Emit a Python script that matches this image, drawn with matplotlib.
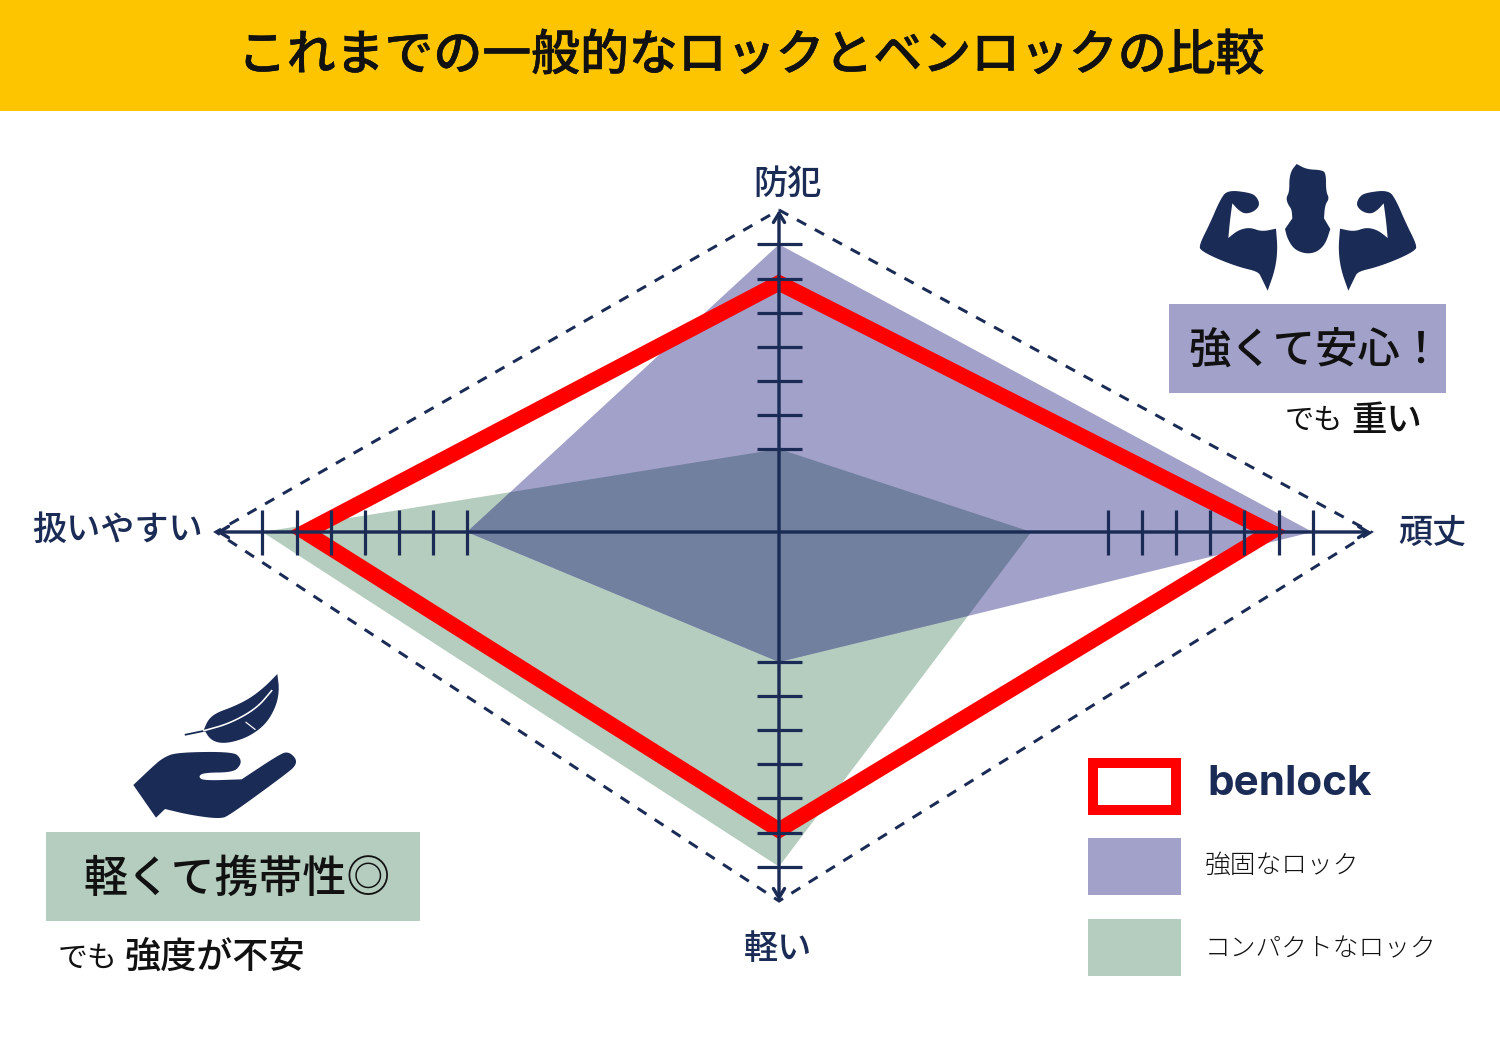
import numpy as np
import matplotlib
matplotlib.use('Agg')
import matplotlib.pyplot as plt
import matplotlib.patheffects as pe
from matplotlib.patches import Polygon, Rectangle

plt.rcParams['font.family'] = ['Noto Sans CJK JP', 'DejaVu Sans']

# Scores per axis, order: up, right, down, left. Ticks are scores 4..10
title = "これまでの一般的なロックとベンロックの比較"
axis_labels = ["防犯", "頑丈", "軽い", "扱いやすい"]
tick_scores = [4, 5, 6, 7, 8, 9, 10]
strong_scores = [10, 10, 4, 4]
compact_scores = [4, 1.75, 10, 10]
benlock_scores = [8.87, 8.78, 8.93, 8.75]
legend_labels = ["強固なロック", "コンパクトなロック"]

NAVY = '#1A2B56'
PURPLE = '#A2A1C9'
GREEN = '#B5CDBE'
OVERLAP = '#71809E'
RED = '#FF0000'
YELLOW = '#FDC500'
INK = '#111111'

# layout in pixels
CX, CY = 779, 532
DIRS = np.array([[0, -1], [1, 0], [0, 1], [-1, 0]])
FIRST_TICK = np.array([83, 329, 130, 312])
AXIS_END = np.array([322, 592, 369, 563])
STEP = 34.1


def px(p):
    return p * 0.72


def score_xy(scores):
    dist = FIRST_TICK + (np.array(scores) - 4) * STEP
    return np.array([CX, CY]) + DIRS * dist[:, None]


def smooth(pts, closed=True, rounds=3):
    # corner cutting, a point listed twice stays a sharp corner
    pts = np.array(pts, dtype=float)
    for _ in range(rounds):
        first, last = pts[0], pts[-1]
        nxt = np.roll(pts, -1, axis=0)
        if not closed:
            pts, nxt = pts[:-1], nxt[:-1]
        q = 0.75 * pts + 0.25 * nxt
        r = 0.25 * pts + 0.75 * nxt
        pts = np.empty((len(q) * 2, 2))
        pts[0::2] = q
        pts[1::2] = r
        if not closed:
            pts = np.vstack([first, pts, last])
    return pts


def trace(pts, ox, oy, closed=True):
    return smooth(pts, closed) / 3 + np.array([ox, oy])


fig = plt.figure(figsize=(15, 10.49), dpi=100)
ax = fig.add_axes([0, 0, 1, 1])
ax.set_xlim(0, 1500)
ax.set_ylim(1049, 0)
ax.axis('off')

# title bar
ax.add_patch(Rectangle((0, 0), 1500, 111, fc=YELLOW, ec='none'))
ax.text(751, 56, title, fontsize=35.2, color=INK, ha='center', va='center', fontweight='medium',
        path_effects=[pe.withStroke(linewidth=0.3, foreground=INK)])

# areas, the overlap is the green shape clipped to the purple one
ax.add_patch(Polygon(score_xy(compact_scores), fc=GREEN, ec='none', zorder=2))
purple = Polygon(score_xy(strong_scores), fc=PURPLE, ec='none', zorder=3)
ax.add_patch(purple)
overlap = Polygon(score_xy(compact_scores), fc=OVERLAP, ec='none', zorder=4)
ax.add_patch(overlap)
overlap.set_clip_path(purple)

# benlock outline
ax.add_patch(Polygon(score_xy(benlock_scores), fc='none', ec=RED, lw=px(15.5), joinstyle='miter', zorder=5))

# dashed frame
ends = np.array([CX, CY]) + DIRS * AXIS_END[:, None]
ax.add_patch(Polygon(ends, fc='none', ec=NAVY, lw=px(3.0), ls=(0, (3.5, 3.3)), zorder=6))

# axes with arrow heads
arrow = dict(arrowstyle='<->,head_length=0.66,head_width=0.4', color=NAVY, lw=px(3.4),
             shrinkA=0, shrinkB=0)
ax.annotate('', xy=ends[0], xytext=ends[2], arrowprops=arrow, zorder=7)
ax.annotate('', xy=ends[1], xytext=ends[3], arrowprops=arrow, zorder=7)

# ticks
for i in range(4):
    for s in tick_scores:
        scores = FIRST_TICK + (s - 4) * STEP
        p = np.array([CX, CY]) + DIRS[i] * scores[i]
        normal = DIRS[i][::-1]
        a = p - normal * 22.5
        b = p + normal * 22.5
        ax.plot([a[0], b[0]], [a[1], b[1]], color=NAVY, lw=px(3.2), solid_capstyle='butt', zorder=7)

# axis labels
label_pos = [(787, 184), (1432, 533), (778, 949), (117, 530)]
for lab, (x, y) in zip(axis_labels, label_pos):
    ax.text(x, y, lab, fontsize=24.6, color=NAVY, ha='center', va='center', fontweight='medium')

# muscle icon
head = [(440, 42), (440, 42), (425, 60), (418, 85), (418, 125), (408, 145), (415, 165), (425, 178),
        (427, 205), (427, 205), (405, 237), (405, 237), (412, 265), (430, 295), (455, 308), (480, 311),
        (505, 303), (527, 280), (541, 237), (541, 237), (522, 205), (522, 205), (525, 165), (538, 145),
        (528, 125), (528, 70), (515, 60), (470, 58)]
arm = [(232, 120), (300, 128), (320, 140), (330, 165), (312, 185), (285, 192), (265, 180), (247, 160),
       (247, 160), (240, 210), (235, 264), (235, 264), (265, 240), (300, 232), (335, 245), (378, 236),
       (378, 236), (383, 300), (375, 360), (353, 422), (353, 422), (335, 385), (325, 365), (270, 352),
       (205, 328), (155, 303), (146, 288), (180, 220), (210, 150)]
arm_mirror = [(948 - x, y) for x, y in arm]
for shape in [head, arm, arm_mirror]:
    ax.add_patch(Polygon(trace(shape, 1150, 150), fc=NAVY, ec='none', zorder=8))

# feather and hand icon
feather = [(742, 42), (742, 42), (748, 90), (738, 140), (708, 192), (660, 228), (610, 246), (570, 250),
           (540, 238), (522, 208), (522, 208), (535, 178), (560, 158), (610, 140), (660, 115), (705, 80)]
hand = [(310, 375), (310, 375), (370, 318), (400, 293), (440, 277), (610, 275), (632, 295), (632, 315),
        (610, 337), (520, 338), (505, 350), (520, 362), (635, 358), (635, 358), (750, 282), (775, 275),
        (798, 295), (798, 315), (775, 337), (600, 465), (570, 477), (480, 465), (405, 447), (405, 447),
        (378, 473), (378, 473)]
ax.add_patch(Polygon(trace(feather, 30, 660), fc=NAVY, ec='none', zorder=8))
ax.add_patch(Polygon(trace(hand, 30, 660), fc=NAVY, ec='none', zorder=8))
stem = trace([(467, 224), (525, 212)], 30, 660, closed=False)
ax.plot(stem[:, 0], stem[:, 1], color=NAVY, lw=px(1.8), zorder=8)
rachis = trace([(522, 212), (600, 190), (680, 145), (725, 92)], 30, 660, closed=False)
ax.plot(rachis[:, 0], rachis[:, 1], color='white', lw=px(1.6), zorder=9)
barb = trace([(648, 187), (675, 208)], 30, 660, closed=False)
ax.plot(barb[:, 0], barb[:, 1], color='white', lw=px(1.2), zorder=9)

# callouts
ax.add_patch(Rectangle((1169, 304), 277, 89, fc=PURPLE, ec='none'))
ax.text(1188, 351, "強くて安心！", fontsize=30.5, color=INK, ha='left', va='center', fontweight='medium')
ax.text(1285, 421, "でも", fontsize=21, color=INK, ha='left', va='center')
ax.text(1351, 421, "重い", fontsize=25.5, color=INK, ha='left', va='center', fontweight='medium')

ax.add_patch(Rectangle((46, 832), 374, 89, fc=GREEN, ec='none'))
ax.text(83, 879, "軽くて携帯性◎", fontsize=31.6, color=INK, ha='left', va='center', fontweight='medium')
ax.text(58, 958, "でも", fontsize=21.5, color=INK, ha='left', va='center')
ax.text(125, 958, "強度が不安", fontsize=26, color=INK, ha='left', va='center', fontweight='medium')

# legend
ax.add_patch(Rectangle((1093, 763), 83, 47, fc='white', ec=RED, lw=px(10), joinstyle='miter'))
ax.add_patch(Rectangle((1088, 838), 93, 57, fc=PURPLE, ec='none'))
ax.add_patch(Rectangle((1088, 919), 93, 57, fc=GREEN, ec='none'))
ax.text(1207, 795, "benlock", fontsize=30.4, color=NAVY, ha='left', va='baseline', fontweight='bold',
        family=['Inter', 'DejaVu Sans'])
ax.text(1205, 865, legend_labels[0], fontsize=18.5, color=INK, ha='left', va='center', fontweight='light')
ax.text(1205, 949, legend_labels[1], fontsize=18.5, color=INK, ha='left', va='center', fontweight='light')

fig.savefig('out.png', dpi=100)
